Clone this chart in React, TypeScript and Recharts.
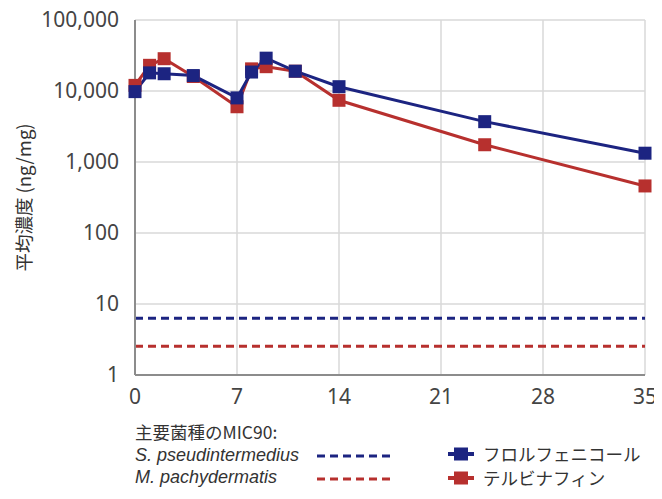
import {
  LineChart,
  Line,
  XAxis,
  YAxis,
  CartesianGrid,
  ReferenceLine,
} from "recharts";

const days = [0, 1, 2, 4, 7, 8, 9, 11, 14, 24, 35];
const florfenicol = [9800, 18000, 17500, 16500, 8000, 18500, 29000, 19000, 11500, 3700, 1330];
const terbinafine = [12000, 23000, 28500, 16000, 6000, 20500, 22000, 19000, 7400, 1750, 460];
const micPseudintermedius = 6.3;
const micPachydermatis = 2.55;
const xTicks = [0, 7, 14, 21, 28, 35];
const yTicks = [1, 10, 100, 1000, 10000, 100000];

const BLUE = "#1c2481";
const RED = "#b7302e";
const FONT = "'Noto Sans CJK JP', 'Noto Sans', sans-serif";
const TICK_FONT = "'Noto Sans', sans-serif";

const data = days.map((d, i) => ({
  day: d,
  florfenicol: florfenicol[i],
  terbinafine: terbinafine[i],
}));

const squareDot = (color: string) => (props: any) => {
  const { cx, cy, index } = props;
  return <rect key={index} x={cx - 6.5} y={cy - 6.5} width={13} height={13} fill={color} />;
};

const YLabel = (props: any) => {
  const vb = props.viewBox || {};
  const cy = (vb.y ?? 20) + (vb.height ?? 355) / 2;
  return (
    <text
      x={15}
      y={cy}
      transform={`rotate(-90, 15, ${cy})`}
      textAnchor="middle"
      dominantBaseline="central"
      fill="#333"
      fontSize={18.5}
      fontFamily={FONT}
    >
      平均濃度 (ng/mg)
    </text>
  );
};

const LegendMarker = ({ color }: { color: string }) => (
  <svg width={26} height={16} style={{ display: "block" }}>
    <line x1={0} y1={8} x2={26} y2={8} stroke={color} strokeWidth={4} />
    <rect x={6} y={1.5} width={14} height={13} fill={color} />
  </svg>
);

const Dashes = ({ color }: { color: string }) => (
  <svg width={73} height={6} style={{ display: "block" }}>
    <line x1={0} y1={3} x2={73} y2={3} stroke={color} strokeWidth={3} strokeDasharray="8 5" />
  </svg>
);

export default function App() {
  const text: React.CSSProperties = {
    position: "absolute",
    fontFamily: FONT,
    fontSize: 17.5,
    color: "#333",
    lineHeight: "22px",
    whiteSpace: "nowrap",
  };
  const species: React.CSSProperties = {
    ...text,
    fontFamily: "'Liberation Sans', Arial, sans-serif",
    fontStyle: "italic",
    fontSize: 18,
  };
  return (
    <div style={{ position: "relative", width: 654, height: 491, marginTop: -8 }}>
      <LineChart
        width={654}
        height={418}
        data={data}
        margin={{ top: 20, right: 17, bottom: 3, left: 0 }}
      >
        <CartesianGrid stroke="#d9d9d9" strokeWidth={1.5} />
        <XAxis
          dataKey="day"
          type="number"
          domain={[0, 35]}
          ticks={xTicks}
          height={40}
          tickLine={false}
          stroke="#8c8c8c"
          strokeWidth={2}
          tickMargin={8}
          tick={{ fill: "#444", fontSize: 21, fontFamily: TICK_FONT }}
        />
        <YAxis
          scale="log"
          domain={[1, 100000]}
          ticks={yTicks}
          allowDataOverflow
          width={127}
          tickLine={false}
          stroke="#8c8c8c"
          strokeWidth={2}
          tickMargin={10}
          tickFormatter={(v: number) => v.toLocaleString("en-US")}
          tick={{ fill: "#444", fontSize: 21, fontFamily: TICK_FONT }}
          label={<YLabel />}
        />
        <ReferenceLine y={micPseudintermedius} stroke={BLUE} strokeWidth={3} strokeDasharray="8 5" />
        <ReferenceLine y={micPachydermatis} stroke={RED} strokeWidth={3} strokeDasharray="8 5" />
        <Line
          dataKey="terbinafine"
          stroke={RED}
          strokeWidth={3}
          dot={squareDot(RED)}
          isAnimationActive={false}
        />
        <Line
          dataKey="florfenicol"
          stroke={BLUE}
          strokeWidth={3}
          dot={squareDot(BLUE)}
          isAnimationActive={false}
        />
      </LineChart>

      <div style={{ ...text, left: 127, top: 421 }}>主要菌種のMIC90:</div>
      <div style={{ ...species, left: 127, top: 444 }}>S. pseudintermedius</div>
      <div style={{ ...species, left: 127, top: 466 }}>M. pachydermatis</div>
      <div style={{ position: "absolute", left: 309, top: 453 }}>
        <Dashes color={BLUE} />
      </div>
      <div style={{ position: "absolute", left: 309, top: 476 }}>
        <Dashes color={RED} />
      </div>
      <div style={{ position: "absolute", left: 440, top: 446 }}>
        <LegendMarker color={BLUE} />
      </div>
      <div style={{ position: "absolute", left: 440, top: 470 }}>
        <LegendMarker color={RED} />
      </div>
      <div style={{ ...text, left: 475, top: 443 }}>フロルフェニコール</div>
      <div style={{ ...text, left: 475, top: 467 }}>テルビナフィン</div>
    </div>
  );
}
